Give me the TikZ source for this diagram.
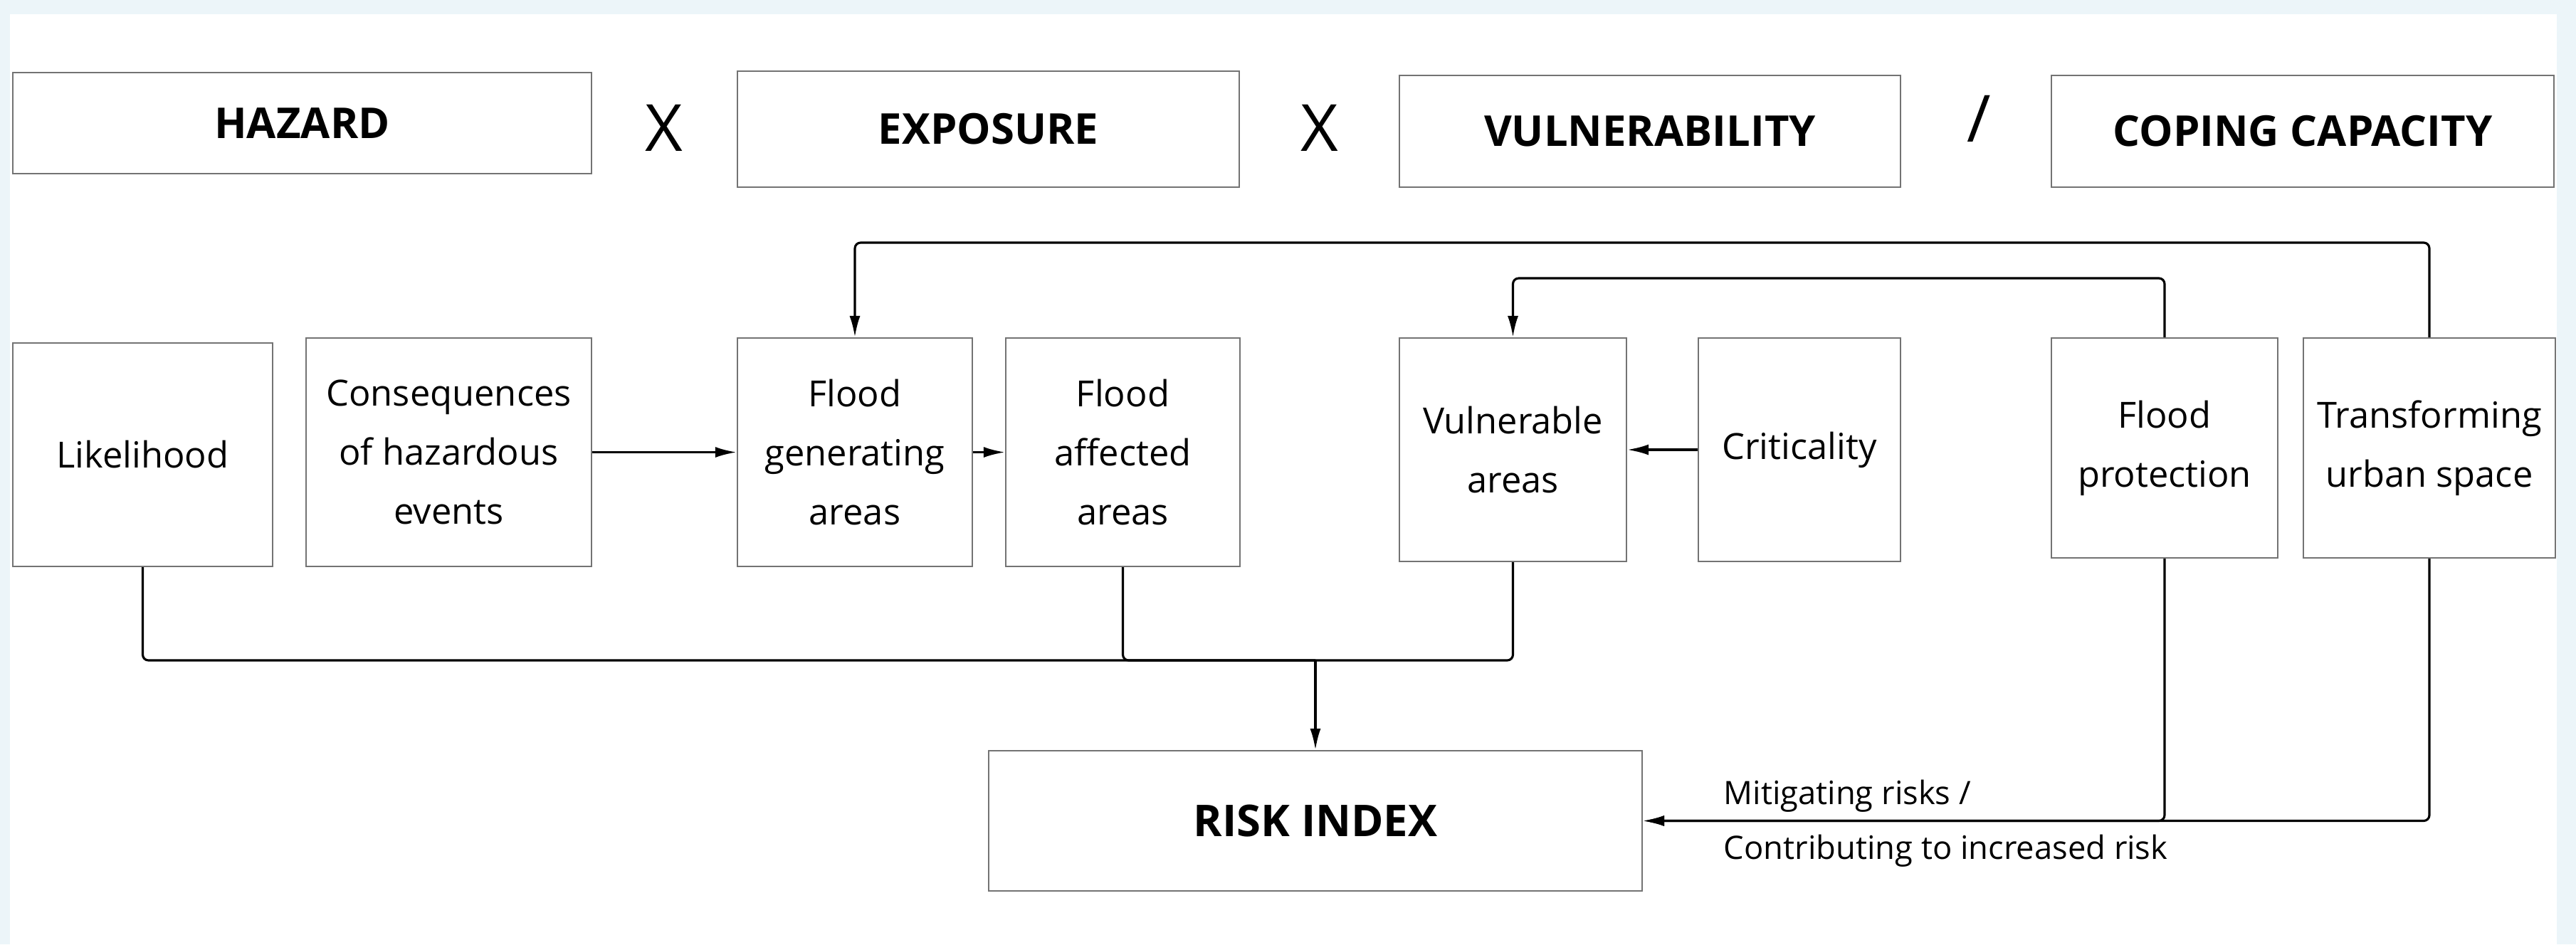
\documentclass[tikz,border=0pt]{standalone}
\usepackage{fontspec}
\setmainfont{Open Sans}
\usetikzlibrary{arrows.meta}
\definecolor{frameblue}{HTML}{ECF5F9}

\begin{document}
\begin{tikzpicture}[
  box/.style={draw=black!55, line width=0.6pt, fill=white, align=center, inner sep=0pt,
    font=\fontsize{14.4}{23.6}\selectfont},
  head/.style={box, font=\fontsize{17}{20}\selectfont\bfseries},
  sign/.style={font=\fontsize{26}{30}\selectfont},
  note/.style={font=\fontsize{12.9}{16}\selectfont, inner sep=0pt},
  link/.style={line width=0.9pt, rounded corners=0.08cm},
  arr/.style={link, -{Latex[length=0.3cm,width=0.15cm]}}
]

  \fill[frameblue] (0,0) rectangle (36.19,-13.27);
  \fill[white] (0.14,-0.20) rectangle (35.92,-13.27);

  \node[head, minimum width=8.13cm, minimum height=1.42cm] (hazard) at (4.245,-1.73) {HAZARD};
  \node[head, minimum width=7.05cm, minimum height=1.63cm] (exposure) at (13.885,-1.815) {EXPOSURE};
  \node[head, minimum width=7.04cm, minimum height=1.57cm] (vulnerability) at (23.18,-1.845) {VULNERABILITY};
  \node[head, minimum width=7.06cm, minimum height=1.57cm] (coping) at (32.35,-1.845) {COPING CAPACITY};

  \node[sign] (times1) at (9.33,-1.80) {X};
  \node[sign] (times2) at (18.54,-1.80) {X};
  \node[sign] (divide) at (27.80,-1.67) {/};

  \node[box, minimum width=3.65cm, minimum height=3.14cm] (likelihood) at (2.005,-6.39) {Likelihood};
  \node[box, minimum width=4.01cm, minimum height=3.21cm] (consequences) at (6.305,-6.355) {Consequences\\of hazardous\\events};
  \node[box, minimum width=3.30cm, minimum height=3.21cm] (floodgen) at (12.01,-6.355) {Flood\\generating\\areas};
  \node[box, minimum width=3.29cm, minimum height=3.21cm] (floodaff) at (15.775,-6.355) {Flood\\affected\\areas};
  \node[box, minimum width=3.19cm, minimum height=3.14cm] (vulnerable) at (21.255,-6.32) {Vulnerable\\areas};
  \node[box, minimum width=2.84cm, minimum height=3.14cm] (criticality) at (25.28,-6.32) {Criticality};
  \node[box, minimum width=3.18cm, minimum height=3.09cm] (protection) at (30.41,-6.295) {Flood\\protection};
  \node[box, minimum width=3.54cm, minimum height=3.09cm] (transforming) at (34.13,-6.295) {Transforming\\urban space};

  \node[head, font=\fontsize{17.5}{20}\selectfont\bfseries, minimum width=9.18cm, minimum height=1.97cm] (risk) at (18.48,-11.535) {RISK INDEX};

  \coordinate (outer) at (0,-3.41);
  \coordinate (inner) at (0,-3.91);
  \coordinate (bus) at (0,-9.28);

  \draw[arr] (consequences) -- (floodgen);
  \draw[arr] (floodgen) -- (floodaff);
  \draw[arr] (criticality) -- (vulnerable);

  \draw[arr] (transforming.north) -- (transforming.north |- outer) -| (floodgen.north);
  \draw[arr] (protection.north) -- (protection.north |- inner) -| (vulnerable.north);

  \draw[link] (likelihood.south) |- (risk.north |- bus);
  \draw[link] (floodaff.south) |- (risk.north |- bus);
  \draw[link] (vulnerable.south) |- (risk.north |- bus);
  \draw[arr] (risk.north |- bus) -- (risk.north);

  \draw[arr] (transforming.south) |- (risk.east);
  \draw[arr] (protection.south) |- (risk.east);

  \node[note, anchor=base west] (mitigating) at (24.21,-11.30) {Mitigating risks /};
  \node[note, anchor=base west] (contributing) at (24.21,-12.07) {Contributing to increased risk};

\end{tikzpicture}
\end{document}
